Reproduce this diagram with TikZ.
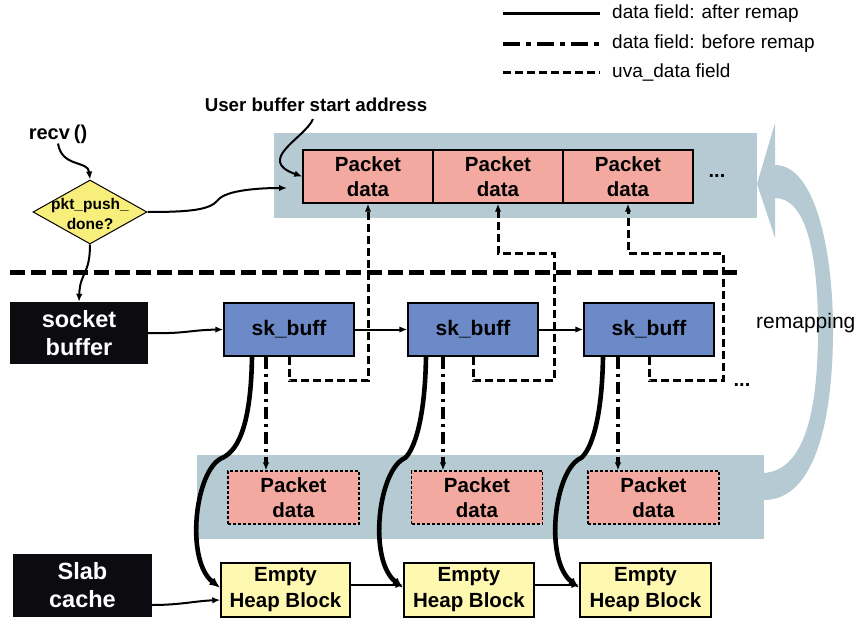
\documentclass[tikz,border=0pt]{standalone}
\usepackage{fontspec}
\setmainfont{Liberation Sans}
\usetikzlibrary{arrows.meta,shapes.geometric}

\definecolor{bandgray}{HTML}{B5CAD3}
\definecolor{pktpink}{HTML}{F4A9A0}
\definecolor{skblue}{HTML}{6B8AC7}
\definecolor{dmyellow}{HTML}{F8EE7C}
\definecolor{heapyellow}{HTML}{FFF8B0}
\definecolor{boxblack}{HTML}{0B0B10}

\begin{document}
\begin{tikzpicture}[x=1pt,y=-1pt,
  tip/.style={-{Latex[length=8pt,width=6.5pt]}},
  bigtip/.style={-{Latex[length=11pt,width=9pt]}},
  thinline/.style={line width=2pt},
  afterremap/.style={line width=4.6pt},
  beforeremap/.style={line width=4.2pt, dash pattern=on 12pt off 5pt on 3pt off 5pt},
  uvaline/.style={line width=3pt, dash pattern=on 8pt off 4pt},
  sepline/.style={line width=5pt, dash pattern=on 15pt off 6pt},
  band/.style={fill=bandgray, inner sep=0pt, anchor=north west},
  pktbox/.style={draw=black, line width=1.4pt, fill=pktpink, minimum width=130pt,
    minimum height=53pt, inner sep=0pt, align=center,
    font=\fontsize{20.5}{25}\selectfont\bfseries},
  oldpkt/.style={pktbox, line width=1.2pt, dash pattern=on 3pt off 2pt, minimum width=131pt},
  skbox/.style={draw=black, line width=1.4pt, fill=skblue, minimum width=130pt,
    minimum height=53pt, inner sep=0pt, font=\fontsize{21}{25}\selectfont\bfseries},
  heapbox/.style={draw=black, line width=1.4pt, fill=heapyellow, minimum width=130pt,
    minimum height=54pt, inner sep=0pt, align=center,
    font=\fontsize{20.5}{26}\selectfont\bfseries},
  blackbox/.style={fill=boxblack, text=white, minimum width=138pt, minimum height=62pt,
    inner sep=0pt, align=center, font=\fontsize{23.5}{28}\selectfont\bfseries},
  lgtext/.style={anchor=west, inner sep=0pt, font=\fontsize{19}{21}\selectfont},
  dots/.style={inner sep=0pt, font=\fontsize{20}{20}\selectfont\bfseries}
]
\useasboundingbox (0,0) rectangle (857,618);

% legend
\node[lgtext] (lt1) at (612,14) {data field: after remap};
\node[lgtext] (lt2) at (612,44) {data field: before remap};
\node[lgtext] (lt3) at (612,73) {uva\_data field};
\coordinate (ls1) at (503,14);
\coordinate (ls2) at (503,44);
\coordinate (ls3) at (503,73);
\draw[line width=3pt] (ls1) -- ([xshift=-12pt]lt1.west);
\draw[line width=4.4pt, dash pattern=on 17pt off 6pt on 5pt off 6pt] (ls2) -- ([xshift=-12pt]lt2.west);
\draw[line width=3pt, dash pattern=on 8pt off 4pt] (ls3) -- ([xshift=-12pt]lt3.west);

% user-space buffer
\node[band, minimum width=483pt, minimum height=85pt] (uband) at (274,133) {};
\node[pktbox] (pkt1) at (368,176.5) {Packet\\data};
\node[pktbox] (pkt2) at (498,176.5) {Packet\\data};
\node[pktbox] (pkt3) at (628,176.5) {Packet\\data};
\node[dots] (tdots) at (717,176) {...};
\coordinate (utip) at (287,188);

% kernel-space packet copies
\node[band, minimum width=567pt, minimum height=84pt] (lband) at (197,455) {};
\node[oldpkt] (lp1) at (293.5,497.5) {Packet\\data};
\node[oldpkt] (lp2) at (477,497.5) {Packet\\data};
\node[oldpkt] (lp3) at (653.5,497.5) {Packet\\data};

% remapping arrow
\fill[bandgray] (775,165) .. controls (815,165) and (833,250) .. (833,330)
  .. controls (833,420) and (815,500) .. (764,500) -- (764,473)
  .. controls (805,470) and (818,410) .. (818,330)
  .. controls (818,250) and (805,198) .. (775,198)
  -- (775,238) -- (757,184) -- (775,123) -- cycle;
\node[anchor=west, inner sep=0pt, font=\fontsize{21}{23}\selectfont] (rm) at (756,323) {remapping};

% labels and flow control
\node[inner sep=0pt, font=\fontsize{18.7}{20}\selectfont\bfseries] (ub) at (316,105) {User buffer start address};
\node[inner sep=0pt, font=\fontsize{20}{22}\selectfont\bfseries] (recv) at (58,134) {recv\hspace{4pt}()};
\node[diamond, draw=black, line width=1pt, fill=dmyellow, minimum width=114pt,
  minimum height=64pt, inner sep=0pt] (dm) at (90,212) {};
\node[inner sep=0pt, align=center, font=\fontsize{15.5}{20}\selectfont\bfseries] (dmt) at (90,214) {pkt\_push\_\\done?};

% boundary between user and kernel space
\coordinate (sepL) at (10,272);
\coordinate (sepR) at (737,272);
\draw[sepline] (sepL) -- (sepR);

% socket buffers
\node[blackbox] (sb) at (79,333) {socket\\buffer};
\node[skbox] (sk1) at (289,329.5) {sk\_buff};
\node[skbox] (sk2) at (473,329.5) {sk\_buff};
\node[skbox] (sk3) at (649,329.5) {sk\_buff};

% slab cache
\node[blackbox, minimum width=139pt, minimum height=63pt] (slab) at (82.5,585.5) {Slab\\cache};
\node[heapbox, minimum width=129pt] (hb1) at (285.5,590) {Empty\\Heap Block};
\node[heapbox] (hb2) at (469,590) {Empty\\Heap Block};
\node[heapbox, minimum width=131pt] (hb3) at (645.5,590) {Empty\\Heap Block};

% control flow connectors
\draw[thinline, tip] (recv.south) .. controls (62,168) and (88,160) .. (dm.north);
\draw[thinline, tip] (dm.east) .. controls (190,212) and (210,210) .. (218,200)
  .. controls (226,190) and (260,188) .. (utip);
\draw[thinline, tip] ([xshift=-3pt,yshift=-7pt]ub.south) .. controls (305,138) and (255,160) .. (pkt1.west);
\draw[thinline, tip] (dm.south) .. controls (90,275) and (80,272) .. (sb.north);
\draw[thinline, tip] (sb.east) .. controls (185,334) and (190,330) .. (sk1.west);
\draw[thinline, tip] (sk1.east) -- (sk2.west);
\draw[thinline, tip] (sk2.east) -- (sk3.west);
\draw[thinline, tip] ([yshift=5pt]hb1.east) -- ([yshift=5pt]hb2.west);
\draw[thinline, tip] ([yshift=5pt]hb2.east) -- ([yshift=5pt]hb3.west);
\draw[thinline, tip] ([yshift=-19.5pt]slab.east) .. controls (180,605) and (195,601) .. ([yshift=-10pt]hb1.west);

% uva_data pointers
\draw[uvaline, tip] (sk1.south) -- ++(0,24) -| (pkt1.south);
\coordinate (u2) at (554,253);
\coordinate (u3) at (723,253);
\draw[uvaline, tip] (sk2.south) -- ++(0,24) -| (u2) -| (pkt2.south);
\draw[uvaline, tip] (sk3.south) -- ++(0,24) -| (u3) -| (pkt3.south);
\node[dots] (bdots) at (742,385) {...};

% data pointers before remap
\coordinate (d1) at ([xshift=-23pt]sk1.south);
\coordinate (d2) at ([xshift=-30pt]sk2.south);
\coordinate (d3) at ([xshift=-31pt]sk3.south);
\draw[beforeremap, tip] (d1) -- (d1 |- lp1.north);
\draw[beforeremap, tip] (d2) -- (d2 |- lp2.north);
\draw[beforeremap, tip] (d3) -- (d3 |- lp3.north);

% data pointers after remap
\coordinate (s1) at ([xshift=-37pt]sk1.south);
\coordinate (s2) at ([xshift=-47pt]sk2.south);
\coordinate (s3) at ([xshift=-46pt]sk3.south);
\draw[afterremap, bigtip] (s1) .. controls (251,420) and (240,450) .. (222,458)
  .. controls (195,470) and (185,560) .. ([yshift=2pt]hb1.west);
\draw[afterremap, bigtip] (s2) .. controls (425,420) and (414,450) .. (405,458)
  .. controls (378,470) and (368,560) .. ([yshift=2pt]hb2.west);
\draw[afterremap, bigtip] (s3) .. controls (602,420) and (591,450) .. (581,458)
  .. controls (554,470) and (544,560) .. ([yshift=2pt]hb3.west);
\end{tikzpicture}
\end{document}
